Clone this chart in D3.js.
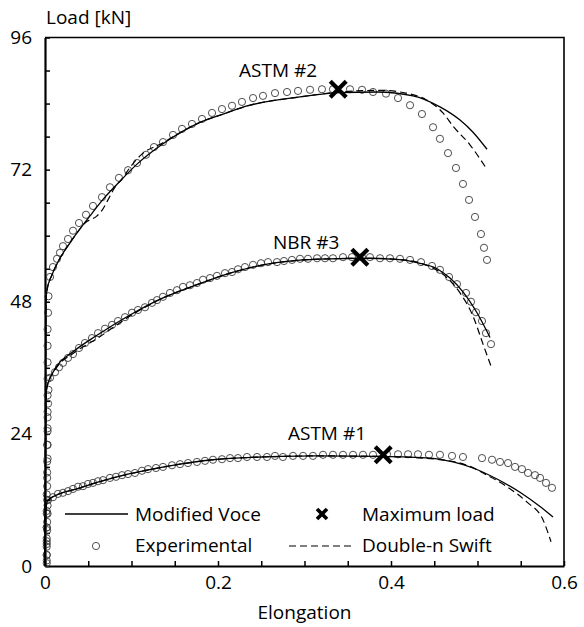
<!DOCTYPE html>
<html><head><meta charset="utf-8">
<script src="https://cdn.jsdelivr.net/npm/d3@7"></script>
<style>
html,body{margin:0;padding:0;background:#fff;}
svg text{font-family:"Open Sans",sans-serif;fill:#000;}
</style></head>
<body><svg id="chart" width="584" height="627"></svg>
<script>
// ---------- data ----------
const xTickLabels = [0, 0.2, 0.4, 0.6];
const yTickLabels = [0, 24, 48, 72, 96];
const xMinorTicks = [0,0.05,0.1,0.15,0.2,0.25,0.3,0.35,0.4,0.45,0.5,0.55,0.6];
const yMinorTicks = [0,6,12,18,24,30,36,42,48,54,60,66,72,78,84,90,96];

const seriesNames = ["ASTM #2", "NBR #3", "ASTM #1"];

// experimental [elongation, load]
const expASTM2 = [[0.002,1],[0.002,4],[0.002,7],[0.002,10],[0.002,13],[0.0025,16],[0.0025,19],[0.0025,22],[0.003,25],[0.003,28],[0.003,31],[0.003,34],[0.003,37],[0.003,40],[0.003,43],[0.0035,46],[0.004,49],
 [0.0058,52.5],[0.0092,54.3],[0.0139,55.8],[0.0173,56.9],[0.0208,58.1],[0.0266,59.4],[0.0324,60.9],[0.0393,62.3],[0.0474,63.8],[0.0555,65.4],[0.0659,67.0],[0.0751,68.8],[0.0855,70.5],[0.0960,71.9],[0.1064,73.2],[0.1168,74.7],[0.1260,76.1],[0.1364,77.0],[0.1480,78.3],[0.1584,79.4],[0.1699,80.3],[0.1815,81.2],[0.1931,82.3],[0.2046,83.0],[0.2162,83.6],[0.2277,84.3],[0.2405,85.0],[0.2520,85.4],[0.2659,85.9],[0.2798,86.1],[0.2925,86.3],[0.3064,86.5],[0.3202,86.6],[0.3329,86.6],[0.3526,86.6],[0.3665,86.5],[0.3792,86.1],[0.3942,85.8],[0.4081,85.0],[0.4220,83.7],[0.4358,82.1],[0.4486,79.7],[0.4566,77.6],[0.4659,75.0],[0.4751,72.3],[0.4832,69.4],[0.4902,66.5],[0.4971,63.4],[0.5040,60.3],[0.5075,57.8],[0.5110,55.6]];

const expNBR3 = [[0.002,2],[0.002,4.5],[0.002,7],[0.002,9.5],[0.0025,12],[0.0025,14.5],[0.0025,17],[0.003,19.5],[0.003,22],[0.003,24.5],[0.003,27],[0.0035,29.5],[0.004,32],
 [0.0058,34.2],[0.0116,35.2],[0.0162,36.1],[0.0208,36.9],[0.0266,37.8],[0.0324,38.5],[0.0393,39.6],[0.0462,40.5],[0.0543,41.4],[0.0613,42.3],[0.0694,43.1],[0.0775,43.8],[0.0844,44.5],[0.0925,45.2],[0.1006,46.0],[0.1075,46.5],[0.1156,47.0],[0.1237,47.8],[0.1295,48.3],[0.1364,48.9],[0.1445,49.6],[0.1526,50.1],[0.1595,50.7],[0.1676,51.0],[0.1757,51.4],[0.1827,52.0],[0.1908,52.3],[0.1988,52.7],[0.2081,53.2],[0.2162,53.4],[0.2231,53.9],[0.2312,54.3],[0.2405,54.7],[0.2497,55.0],[0.2578,55.2],[0.2682,55.2],[0.2763,55.4],[0.2855,55.6],[0.2948,55.8],[0.3040,55.8],[0.3145,55.9],[0.3237,55.9],[0.3329,55.9],[0.3445,56.1],[0.3549,56.1],[0.3665,56.1],[0.3757,56.1],[0.3873,55.9],[0.3988,55.9],[0.4104,55.8],[0.4220,55.6],[0.4347,55.2],[0.4474,54.5],[0.4566,53.8],[0.4671,52.5],[0.4763,51.2],[0.4867,49.6],[0.4925,48.0],[0.4983,46.1],[0.5052,44.5],[0.5098,42.3],[0.5156,40.3]];

const expASTM1 = [[0.002,0.5],[0.002,2],[0.002,3.5],[0.002,5],[0.0025,6.5],[0.0025,8],[0.003,9.5],[0.003,11],
 [0.0035,12.0],[0.0092,12.5],[0.0150,13.1],[0.0208,13.3],[0.0266,13.6],[0.0324,14.0],[0.0382,14.4],[0.0439,14.5],[0.0497,14.9],[0.0555,15.1],[0.0613,15.4],[0.0671,15.6],[0.0751,16.0],[0.0821,16.2],[0.0890,16.5],[0.0960,16.7],[0.1040,16.9],[0.1121,17.3],[0.1191,17.6],[0.1283,17.8],[0.1364,18.0],[0.1468,18.3],[0.1561,18.5],[0.1653,18.7],[0.1757,18.9],[0.1850,19.1],[0.1942,19.3],[0.2046,19.4],[0.2139,19.6],[0.2231,19.6],[0.2335,19.8],[0.2451,19.8],[0.2566,19.8],[0.2659,20.0],[0.2751,19.8],[0.2867,20.0],[0.2983,20.0],[0.3098,20.0],[0.3214,20.2],[0.3329,20.2],[0.3445,20.2],[0.3561,20.2],[0.3676,20.2],[0.3792,20.2],[0.3954,20.3],[0.4081,20.3],[0.4197,20.3],[0.4312,20.3],[0.4439,20.2],[0.4566,20.2],[0.4705,20.0],[0.4832,19.8],[0.5052,19.6],[0.5168,19.3],[0.5260,18.9],[0.5353,18.7],[0.5434,18.0],[0.5514,17.6],[0.5584,16.9],[0.5665,16.5],[0.5723,16.0],[0.5792,15.1],[0.5861,14.2]];

// Modified Voce fits
const voceASTM2 = [[0,0],[0.0012,48.3],[0.0023,50.1],[0.0081,52.9],[0.0173,55.9],[0.0289,58.7],[0.0347,60.0],[0.052,63.6],[0.0671,66.6],[0.0867,69.9],[0.1064,73.0],[0.1364,76.7],[0.1595,79.0],[0.1792,80.6],[0.1988,81.7],[0.237,83.7],[0.2948,85.2],[0.341,86.0],[0.3838,86.1],[0.4254,85.4],[0.4566,83.4],[0.4798,81.0],[0.4948,78.8],[0.511,75.7]];
const voceNBR3 = [[0,0],[0.0012,31.0],[0.0023,32.5],[0.0116,35.8],[0.0324,38.9],[0.0601,41.9],[0.0983,45.6],[0.1364,48.7],[0.1757,51.1],[0.2139,53.2],[0.2520,54.7],[0.2913,55.5],[0.3295,55.8],[0.3676,55.9],[0.4069,55.7],[0.4301,55.1],[0.4532,54.0],[0.4682,52.3],[0.4832,49.8],[0.4994,46.0],[0.5145,41.5]];
const voceASTM1 = [[0,0],[0.0012,10.5],[0.0035,12.0],[0.0405,14.2],[0.0786,16.0],[0.1179,17.4],[0.1561,18.5],[0.1942,19.3],[0.2335,19.7],[0.2717,19.9],[0.3110,20.0],[0.3872,19.9],[0.4451,19.6],[0.4717,18.9],[0.4948,17.8],[0.5225,15.8],[0.5491,13.4],[0.5723,10.8],[0.5873,8.9]];

// Double-n Swift fits
const swiftASTM2 = [[0,0],[0.0012,48.3],[0.0023,50.1],[0.0081,52.9],[0.0173,55.9],[0.0289,58.7],[0.0347,60.0],[0.0462,62.3],[0.0601,63.6],[0.0659,64.6],[0.0728,66.5],[0.0809,68.8],[0.0890,70.3],[0.0983,72.4],[0.1098,74.5],[0.1364,76.9],[0.1595,79.0],[0.1792,80.6],[0.1988,81.7],[0.237,83.7],[0.2948,85.2],[0.341,86.1],[0.3873,86.4],[0.4173,85.9],[0.4405,84.7],[0.4601,82.3],[0.4717,79.9],[0.4913,76.5],[0.5099,72.3]];
const swiftNBR3 = [[0,0],[0.0012,31.0],[0.0023,32.5],[0.0116,35.6],[0.0324,38.6],[0.0601,41.3],[0.0983,45.4],[0.1364,48.7],[0.1757,51.1],[0.2139,53.2],[0.2520,54.7],[0.2913,55.5],[0.3295,55.8],[0.3676,55.9],[0.4069,55.7],[0.4301,55.2],[0.4474,54.2],[0.4624,52.7],[0.4798,49.6],[0.4948,45.4],[0.5064,40.3],[0.5168,35.8]];
const swiftASTM1 = [[0,0],[0.0012,10.5],[0.0035,12.0],[0.0405,14.2],[0.0786,16.0],[0.1179,17.4],[0.1561,18.5],[0.1942,19.3],[0.2335,19.7],[0.2717,19.9],[0.3110,20.0],[0.3872,19.9],[0.4451,19.5],[0.4879,18.3],[0.5110,16.5],[0.5341,14.4],[0.5572,11.6],[0.5757,8.4],[0.5850,4.4]];

// maximum load points
const maxLoad = [[0.339,86.6],[0.364,56.1],[0.391,20.2]];
// label anchor points (elongation, load) for series names
const labelPos = [[0.2243,88.8],[0.2636,57.5],[0.2809,22.8]];

// ---------- drawing ----------
const svg = d3.select("#chart");
const x = d3.scaleLinear().domain([0, 0.6]).range([45, 564]);
const y = d3.scaleLinear().domain([0, 96]).range([566, 37.5]);
const FS = "19px";

// frame (top and right)
svg.append("path")
  .attr("d", `M${x(0)},${y(96)}H${x(0.6)}V${y(0)}`)
  .attr("fill","none").attr("stroke","#000").attr("stroke-width",1.6);

const xAxis = d3.axisBottom(x).tickValues(xMinorTicks).tickSizeInner(-5).tickSizeOuter(0).tickPadding(10)
  .tickFormat(d => xTickLabels.some(v => Math.abs(v-d)<1e-9) ? d3.format("")(+d.toFixed(2)) : "");
const gx = svg.append("g").attr("transform",`translate(0,${y(0)})`).call(xAxis);
gx.select(".domain").attr("stroke-width",2.2);
gx.selectAll(".tick line").attr("stroke-width",1.5);
gx.selectAll("text").style("font-size",FS).attr("font-family",null);

const yAxis = d3.axisLeft(y).tickValues(yMinorTicks).tickSizeInner(-5).tickSizeOuter(0).tickPadding(13)
  .tickFormat(d => yTickLabels.includes(d) ? String(d) : "");
const gy = svg.append("g").attr("transform",`translate(${x(0)},0)`).call(yAxis);
gy.select(".domain").attr("stroke-width",2.2);
gy.selectAll(".tick line").attr("stroke-width",1.5);
gy.selectAll("text").style("font-size",FS).attr("font-family",null);

svg.append("text").attr("x",46).attr("y",24).style("font-size",FS).text("Load [kN]");
svg.append("text").attr("x",(x(0)+x(0.6))/2).attr("y",619).attr("text-anchor","middle").style("font-size",FS).text("Elongation");

const line = d3.line().x(d=>x(d[0])).y(d=>y(d[1])).curve(d3.curveMonotoneX);

const plot = svg.append("g");
[expASTM2, expNBR3, expASTM1].forEach(arr => {
  plot.append("g").selectAll("circle").data(arr).join("circle")
    .attr("cx", d=>x(d[0])).attr("cy", d=>y(d[1])).attr("r",3.6)
    .attr("fill","none").attr("stroke","#3a3a3a").attr("stroke-width",0.9);
});
[voceASTM2, voceNBR3, voceASTM1].forEach(arr => {
  plot.append("path").datum(arr).attr("d",line).attr("fill","none").attr("stroke","#000").attr("stroke-width",1.3);
});
[swiftASTM2, swiftNBR3, swiftASTM1].forEach(arr => {
  plot.append("path").datum(arr).attr("d",line).attr("fill","none").attr("stroke","#000").attr("stroke-width",1.2).attr("stroke-dasharray","7,4");
});

function xMark(g, cx, cy, h, w){
  g.append("path").attr("d",`M${cx-h},${cy-h}L${cx+h},${cy+h}M${cx+h},${cy-h}L${cx-h},${cy+h}`)
    .attr("stroke","#000").attr("stroke-width",w).attr("fill","none");
}
maxLoad.forEach(d => xMark(plot, x(d[0]), y(d[1]), 8, 4.2));

labelPos.forEach((d,i) => {
  svg.append("text").attr("x",x(d[0])).attr("y",y(d[1])).style("font-size",FS).text(seriesNames[i]);
});

// legend
const lg = svg.append("g");
lg.append("line").attr("x1",65).attr("x2",128).attr("y1",514).attr("y2",514).attr("stroke","#000").attr("stroke-width",1.3);
lg.append("text").attr("x",135).attr("y",521).style("font-size",FS).text("Modified Voce");
lg.append("circle").attr("cx",96).attr("cy",546).attr("r",3.6).attr("fill","none").attr("stroke","#3a3a3a").attr("stroke-width",0.9);
lg.append("text").attr("x",135).attr("y",552).style("font-size",FS).text("Experimental");
xMark(lg, 322, 514, 5, 3.6);
lg.append("text").attr("x",362).attr("y",521).style("font-size",FS).text("Maximum load");
lg.append("line").attr("x1",289).attr("x2",352).attr("y1",546).attr("y2",546).attr("stroke","#000").attr("stroke-width",1.2).attr("stroke-dasharray","7,4");
lg.append("text").attr("x",362).attr("y",552).style("font-size",FS).text("Double-n Swift");
</script></body></html>
